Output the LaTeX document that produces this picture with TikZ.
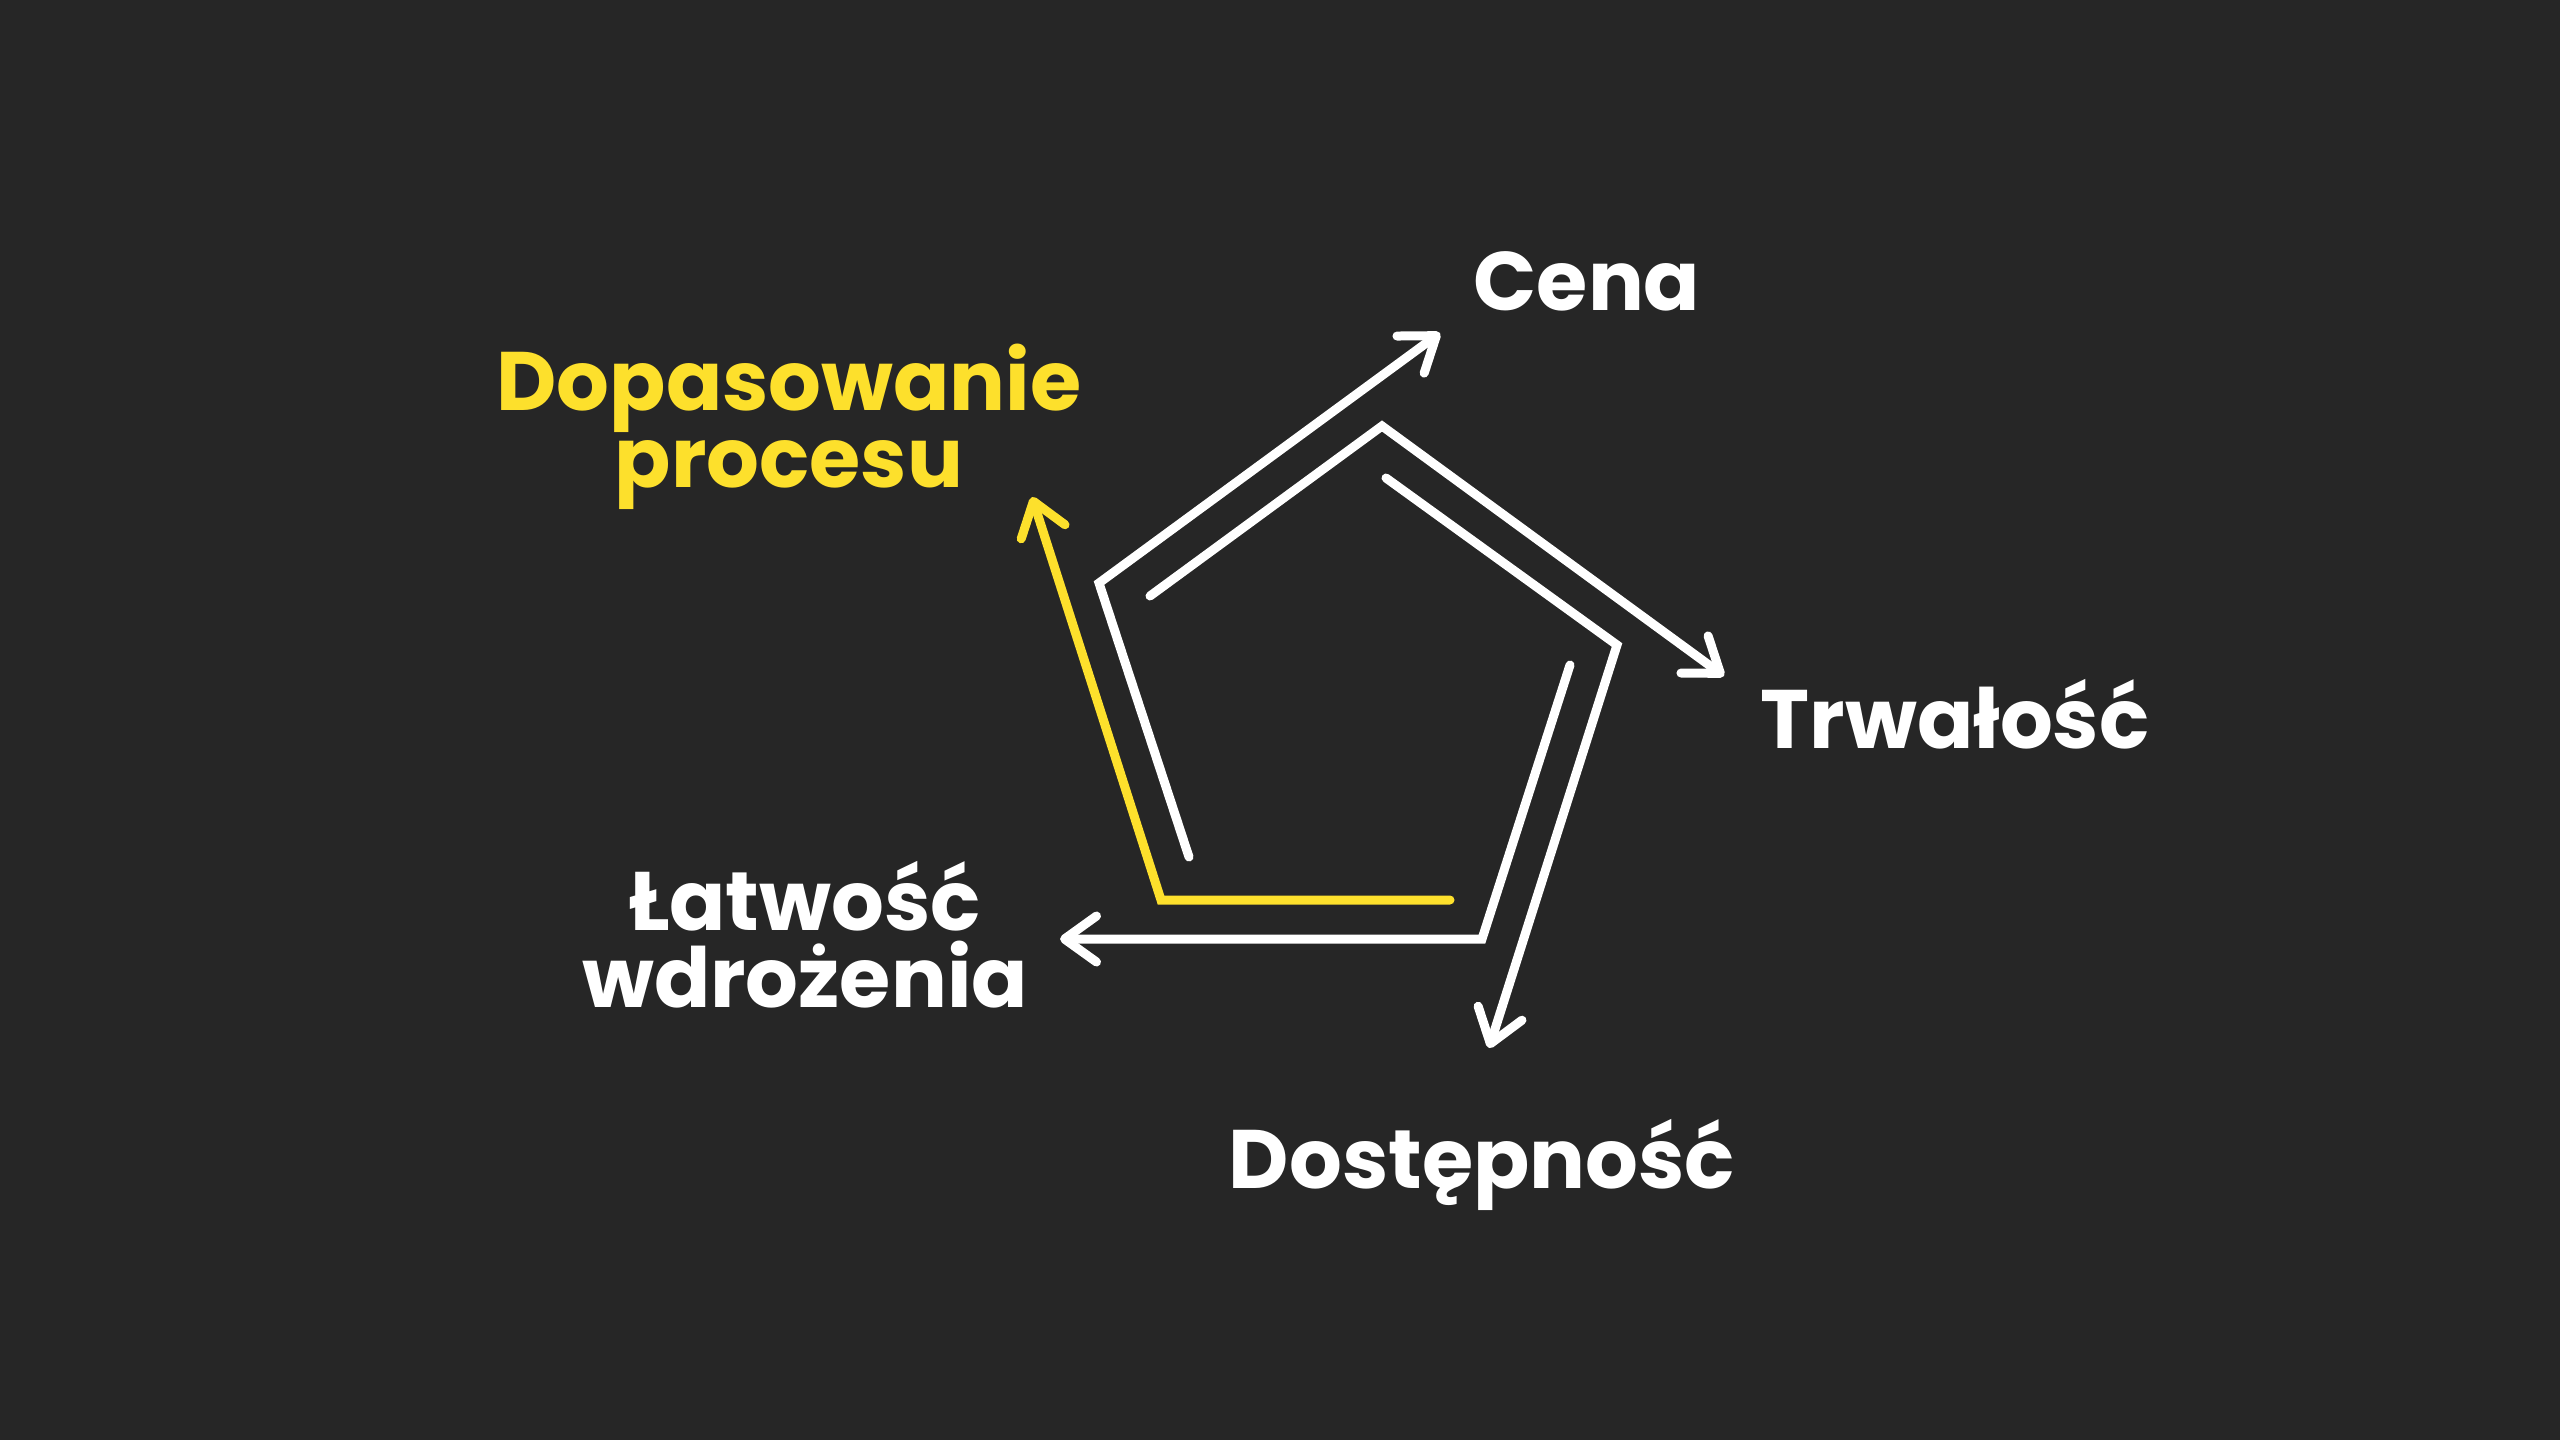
\documentclass[tikz,border=0pt]{standalone}
\usepackage{fontspec}
\setmainfont{Poppins}
\usetikzlibrary{arrows.meta}
\definecolor{bg}{RGB}{38,38,38}
\definecolor{accent}{RGB}{253,224,44}
\tikzset{
  spiral/.style={draw=white, line width=9pt, line cap=round, line join=miter,
    -{Straight Barb[length=32pt,width=46pt,line cap=round,line join=round]}},
  hl/.style={draw=accent},
  lbl/.style={text=white, inner sep=0pt, anchor=base, align=center,
    font=\fontsize{83}{77}\selectfont\bfseries},
}
\begin{document}
\begin{tikzpicture}[x=1pt,y=-1pt]
\fill[bg] (0,0) rectangle (2560,1440);
\useasboundingbox (0,0) rectangle (2560,1440);
% corner / end coordinates
\coordinate (a1s) at (1189,857);
\coordinate (a1c) at (1099,583);
\coordinate (a1e) at (1440,333);
\coordinate (a2s) at (1150,596);
\coordinate (a2c) at (1382,426);
\coordinate (a2e) at (1724,676);
\coordinate (a3s) at (1386,478);
\coordinate (a3c) at (1617,645);
\coordinate (a3e) at (1489,1048);
\coordinate (a4s) at (1570,665);
\coordinate (a4c) at (1482,939);
\coordinate (a4e) at (1060,939);
\coordinate (a5s) at (1450,900);
\coordinate (a5c) at (1161,900);
\coordinate (a5e) at (1032,497);
% arrows
\draw[spiral] (a1s) -- (a1c) -- (a1e);
\draw[spiral] (a2s) -- (a2c) -- (a2e);
\draw[spiral] (a3s) -- (a3c) -- (a3e);
\draw[spiral] (a4s) -- (a4c) -- (a4e);
\draw[spiral, hl] (a5s) -- (a5c) -- (a5e);
% labels (multi-line labels: base = last line)
\node[lbl] (cena) at (1587,310) {Cena};
\node[lbl] (trw) at (1955,748) {Trwałość};
\node[lbl] (dost) at (1482,1188) {Dostępność};
\node[lbl] (latw) at (805,1007) {Łatwość\\wdrożenia};
\node[lbl, text=accent] (dop) at (789,487) {Dopasowanie\\procesu};
\end{tikzpicture}
\end{document}
